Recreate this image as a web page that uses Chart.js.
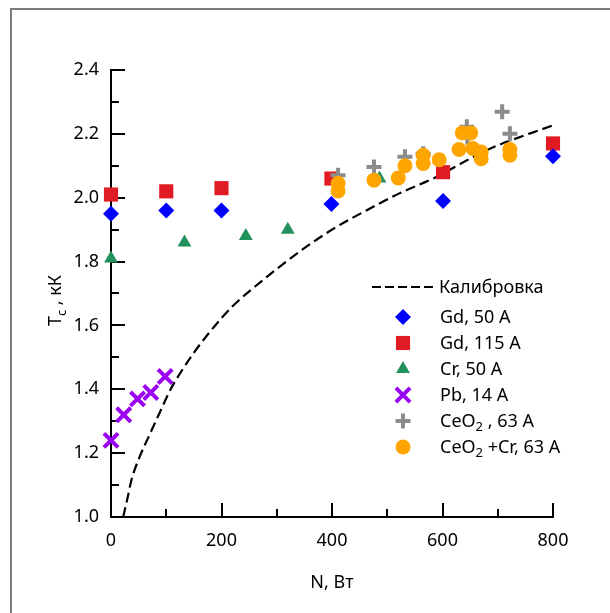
<!DOCTYPE html>
<html lang="ru">
<head>
<meta charset="UTF-8">
<title>Tc vs N</title>
<script src="https://cdn.jsdelivr.net/npm/chart.js"></script>
<style>
  body { margin: 0; padding: 0; background: #fff; }
  #wrap { position: relative; width: 610px; height: 613px; }
  #frame {
    position: absolute; left: 10px; top: 8px; right: -4px; bottom: -4px;
    border-left: 2px solid #7a7a7a; border-top: 2px solid #7a7a7a;
    pointer-events: none;
  }
</style>
</head>
<body>
<div id="wrap">
  <canvas id="tcChart" width="610" height="613"></canvas>
  <div id="frame"></div>
</div>
<script>
// calibration curve
const calibN = [22, 30, 37, 52, 68, 89, 107, 125, 149, 179, 220, 270, 342, 400, 463, 520, 583, 680, 800];
const calibT = [1.0, 1.06, 1.116, 1.189, 1.251, 1.33, 1.397, 1.45, 1.512, 1.58, 1.66, 1.735, 1.832, 1.90, 1.961, 2.012, 2.06, 2.149, 2.227];

const gd50N = [0, 100, 200, 399, 601, 800];
const gd50T = [1.95, 1.96, 1.96, 1.98, 1.99, 2.13];

const gd115N = [0, 100, 200, 399, 601, 800];
const gd115T = [2.01, 2.02, 2.03, 2.06, 2.08, 2.17];

const cr50N = [0, 133, 244, 320, 486];
const cr50T = [1.81, 1.86, 1.88, 1.90, 2.06];

const pb14N = [0, 23, 48, 72, 98];
const pb14T = [1.24, 1.32, 1.37, 1.39, 1.44];

const ceo2N = [411, 476, 532, 565, 644, 645, 708, 722];
const ceo2T = [2.07, 2.096, 2.128, 2.138, 2.222, 2.19, 2.269, 2.20];

const ceo2crN = [411, 411, 476, 520, 532, 565, 565, 594, 630, 636, 651, 655, 670, 670, 722, 722];
const ceo2crT = [2.045, 2.021, 2.055, 2.062, 2.10, 2.133, 2.107, 2.119, 2.151, 2.203, 2.203, 2.154, 2.143, 2.122, 2.151, 2.133];

const xTicks = [0, 200, 400, 600, 800];
const yTicks = [1.0, 1.2, 1.4, 1.6, 1.8, 2.0, 2.2, 2.4];

const calibLabel = 'Калибровка';
const xTitle = 'N, Вт';

const FONT = '"Noto Sans", "Open Sans", sans-serif';
const FS = 18;
const FS_SUB = 13;

function pts(xs, ys) {
  return xs.map((x, i) => ({ x: x, y: ys[i] }));
}

function markerSet(label, xs, ys, style, color, radius, order) {
  const cross = style === 'cross' || style === 'crossRot';
  return {
    label: label,
    data: pts(xs, ys),
    pointStyle: style,
    pointRadius: radius,
    pointHoverRadius: radius,
    backgroundColor: color,
    borderColor: color,
    pointBorderWidth: cross ? 4 : 0,
    showLine: false,
    clip: false,
    order: order
  };
}

const datasets = [
  {
    label: calibLabel,
    data: pts(calibN, calibT),
    showLine: true,
    borderColor: '#000',
    borderWidth: 2.2,
    borderDash: [10, 5],
    pointRadius: 0,
    cubicInterpolationMode: 'monotone',
    fill: false,
    order: 9
  },
  markerSet('Gd, 50 A', gd50N, gd50T, 'rectRot', '#0000ff', 8, 6),
  markerSet('Gd, 115 A', gd115N, gd115T, 'rect', '#e01b24', 10, 7),
  markerSet('Cr, 50 A', cr50N, cr50T, 'triangle', '#22925d', 8, 5),
  markerSet('Pb, 14 A', pb14N, pb14T, 'crossRot', '#9a00f2', 10, 4),
  markerSet('CeO₂ , 63 A', ceo2N, ceo2T, 'cross', '#8c8c8c', 7.5, 3),
  markerSet('CeO₂ +Cr, 63 A', ceo2crN, ceo2crT, 'circle', '#ffa500', 7.5, 2)
];

// writes text, turning ₂ / ᶜ-like markers into a smaller lowered digit
function richText(ctx, text, x, y) {
  const parts = text.split('₂');
  let cx = x;
  parts.forEach((p, i) => {
    ctx.font = FS + 'px ' + FONT;
    ctx.fillText(p, cx, y);
    cx += ctx.measureText(p).width;
    if (i < parts.length - 1) {
      ctx.font = FS_SUB + 'px ' + FONT;
      ctx.fillText('2', cx, y + 5);
      cx += ctx.measureText('2').width;
    }
  });
}

// ticks drawn inside the plot, major + minor
const insideTicks = {
  id: 'insideTicks',
  beforeDatasetsDraw(chart) {
    const { ctx } = chart;
    const x = chart.scales.x, y = chart.scales.y;
    ctx.save();
    ctx.strokeStyle = '#000';
    ctx.lineWidth = 2;
    ctx.beginPath();
    for (let i = 1; i <= 14; i++) {
      const py = Math.round(y.getPixelForValue(1 + i * 0.1));
      const len = i % 2 === 0 ? 14 : 8;
      ctx.moveTo(x.left, py);
      ctx.lineTo(x.left + len, py);
    }
    for (let i = 1; i <= 8; i++) {
      const px = Math.round(x.getPixelForValue(i * 100));
      const len = i % 2 === 0 ? 14 : 8;
      ctx.moveTo(px, y.bottom);
      ctx.lineTo(px, y.bottom - len);
    }
    ctx.stroke();
    ctx.restore();
  }
};

// y title with a subscript
const yTitle = {
  id: 'yTitle',
  afterDraw(chart) {
    const { ctx } = chart;
    const yc = (chart.chartArea.top + chart.chartArea.bottom) / 2 + 7;
    ctx.save();
    ctx.translate(61, yc);
    ctx.rotate(-Math.PI / 2);
    ctx.fillStyle = '#000';
    ctx.textBaseline = 'alphabetic';
    const big = FS + 'px ' + FONT, small = FS_SUB + 'px ' + FONT;
    ctx.font = big;
    const wT = ctx.measureText('T').width;
    const wRest = ctx.measureText(' , кК').width;
    ctx.font = small;
    const wc = ctx.measureText('c').width;
    let cx = -(wT + wc + wRest) / 2;
    ctx.font = big;
    ctx.fillText('T', cx, 0);
    cx += wT;
    ctx.font = small;
    ctx.fillText('c', cx, 5);
    cx += wc;
    ctx.font = big;
    ctx.fillText(' , кК', cx, 0);
    ctx.restore();
  }
};

// legend inside the plot
const innerLegend = {
  id: 'innerLegend',
  afterDraw(chart) {
    const { ctx } = chart;
    const sets = chart.data.datasets;
    const rowH = 26;
    const top = 287;
    ctx.save();
    ctx.font = FS + 'px ' + FONT;
    ctx.textBaseline = 'middle';
    ctx.fillStyle = '#000';
    // calibration row
    ctx.strokeStyle = '#000';
    ctx.lineWidth = 2.2;
    ctx.setLineDash([9, 4]);
    ctx.beginPath();
    ctx.moveTo(372, top);
    ctx.lineTo(433, top);
    ctx.stroke();
    ctx.setLineDash([]);
    ctx.fillText(sets[0].label, 439, top + 1);
    for (let i = 1; i < sets.length; i++) {
      const ds = sets[i];
      const cy = top + i * rowH + 4;
      ctx.fillStyle = ds.backgroundColor;
      ctx.strokeStyle = ds.borderColor;
      ctx.lineWidth = ds.pointBorderWidth;
      Chart.helpers.drawPoint(ctx, {
        pointStyle: ds.pointStyle,
        radius: ds.pointRadius,
        rotation: 0,
        borderWidth: ds.pointBorderWidth
      }, 403, cy);
      ctx.fillStyle = '#000';
      richText(ctx, ds.label, 440, cy + 1);
    }
    ctx.restore();
  }
};

new Chart(document.getElementById('tcChart'), {
  type: 'scatter',
  data: { datasets: datasets },
  plugins: [insideTicks, yTitle, innerLegend],
  options: {
    responsive: false,
    animation: false,
    events: [],
    layout: { padding: { left: 0, top: 70, right: 57, bottom: 0 } },
    plugins: {
      legend: { display: false },
      tooltip: { enabled: false }
    },
    scales: {
      x: {
        type: 'linear',
        min: 0,
        max: 800,
        afterFit(s) { s.height = 96; },
        afterBuildTicks(s) { s.ticks = xTicks.map(v => ({ value: v })); },
        grid: { display: false, drawTicks: false },
        border: { display: true, color: '#000', width: 2 },
        ticks: { color: '#000', padding: 13, font: { family: FONT, size: FS } },
        title: {
          display: true,
          text: xTitle,
          color: '#000',
          font: { family: FONT, size: FS },
          padding: { top: 0, bottom: 19 }
        }
      },
      y: {
        type: 'linear',
        min: 1.0,
        max: 2.4,
        afterFit(s) { s.width = 111; },
        afterBuildTicks(s) { s.ticks = yTicks.map(v => ({ value: v })); },
        grid: { display: false, drawTicks: false },
        border: { display: true, color: '#000', width: 2 },
        ticks: {
          color: '#000',
          padding: 12,
          font: { family: FONT, size: FS },
          callback: v => v.toFixed(1)
        }
      }
    }
  }
});
</script>
</body>
</html>
